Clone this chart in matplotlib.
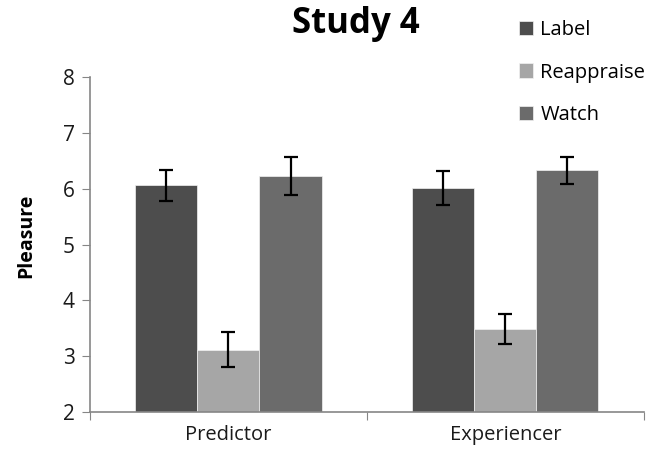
import matplotlib
matplotlib.use("Agg")
import matplotlib.pyplot as plt
import numpy as np

plt.rcParams['font.family'] = ['Open Sans', 'DejaVu Sans']

categories = ["Predictor", "Experiencer"]
series = ["Label", "Reappraise", "Watch"]
values = {
    "Label": [6.06, 6.01],
    "Reappraise": [3.12, 3.49],
    "Watch": [6.22, 6.33],
}
errors = {
    "Label": [0.28, 0.30],
    "Reappraise": [0.31, 0.27],
    "Watch": [0.34, 0.24],
}
colors = {"Label": "#4d4d4d", "Reappraise": "#a6a6a6", "Watch": "#6b6b6b"}

fig = plt.figure(figsize=(6.57, 4.61), dpi=100)
ax = fig.add_axes([0.137, 0.106, 0.843, 0.727])

x = np.arange(len(categories))
w = 0.224
handles = []
for i, s in enumerate(series):
    pos = x + (i - 1) * w
    b = ax.bar(pos, values[s], w, bottom=0, color=colors[s], label=s,
               edgecolor='#f2f2f2', linewidth=0.5, zorder=2)
    ax.errorbar(pos, values[s], yerr=errors[s], fmt='none', ecolor='black',
                elinewidth=1.6, capsize=5, capthick=1.6, zorder=3)
    handles.append(b)

ax.set_ylim(2, 8)
ax.set_xlim(-0.5, 1.5)
ax.set_yticks(range(2, 9))
ax.set_xticks([-0.5, 0.5, 1.5], minor=False)
ax.set_xticklabels([])
ax.set_xticks(x, minor=True)
ax.set_xticklabels(categories, minor=True)
ax.tick_params(axis='x', which='minor', length=0, pad=9, labelsize=14.5, labelcolor='#1a1a1a')
ax.tick_params(axis='x', which='major', length=6, direction='out', color='#868686')
ax.tick_params(axis='y', length=6, direction='out', color='#868686', labelsize=15,
               pad=5, labelcolor='#1a1a1a')

for sp in ['top', 'right']:
    ax.spines[sp].set_visible(False)
for sp in ['left', 'bottom']:
    ax.spines[sp].set_color('#868686')
    ax.spines[sp].set_linewidth(1.2)

ax.set_ylabel("Pleasure", fontsize=14, fontweight='bold')
ax.yaxis.set_label_coords(-0.097, 0.525)
fig.text(0.542, 0.948, "Study 4", fontsize=25, fontweight='bold', ha='center', va='center')

fig.legend(handles=handles, labels=series, loc='upper left',
           bbox_to_anchor=(0.7625, 0.995), frameon=False, fontsize=14.5,
           handlelength=0.7, handleheight=0.7, handletextpad=0.35, labelspacing=1.1)

fig.savefig("out.png", dpi=100)
